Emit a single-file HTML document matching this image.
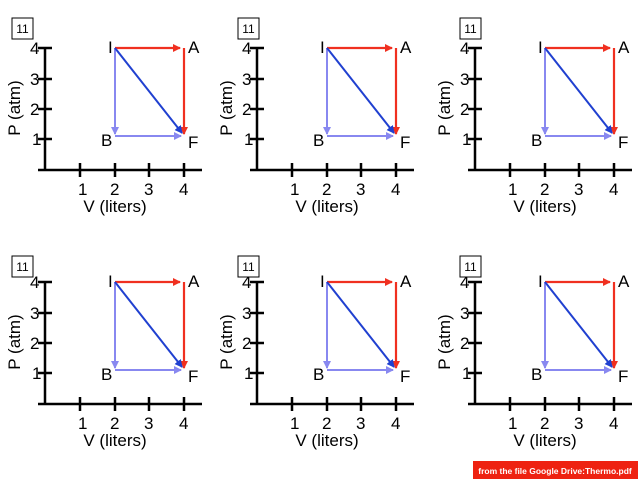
<!DOCTYPE html>
<html><head><style>
body{margin:0;background:#fff}
svg text{font-family:"Liberation Sans",sans-serif;fill:#000}
</style></head><body>
<svg width="640" height="480" viewBox="0 0 640 480" xmlns="http://www.w3.org/2000/svg">
<defs>
<marker id="ar" markerWidth="8" markerHeight="8" refX="7" refY="4" orient="auto" markerUnits="userSpaceOnUse"><path d="M0,0 L8,4 L0,8 z" fill="#f03020"/></marker>
<marker id="ab" markerWidth="8" markerHeight="8" refX="7" refY="4" orient="auto" markerUnits="userSpaceOnUse"><path d="M0,0 L8,4 L0,8 z" fill="#2040d0"/></marker>
<marker id="al" markerWidth="8" markerHeight="8" refX="7" refY="4" orient="auto" markerUnits="userSpaceOnUse"><path d="M0,0 L8,4 L0,8 z" fill="#8888f0"/></marker>
<g id="p">
<g stroke="#000" stroke-width="2.5" fill="none">
<path d="M45,48 V170 M38,170 H202"/>
<path d="M38,48 H52 M38,79 H52 M38,109 H52 M38,139 H52"/>
<path d="M80,163 V177 M115,163 V177 M149,163 V177 M184,163 V177"/>
</g>
<g font-size="17">
<text x="30" y="54">4</text><text x="30" y="85">3</text><text x="30" y="115">2</text><text x="32" y="145">1</text>
<text x="78" y="195">1</text><text x="110" y="195">2</text><text x="144" y="195">3</text><text x="179" y="195">4</text>
<text x="115" y="212" text-anchor="middle">V (liters)</text>
<text transform="translate(20,108) rotate(-90)" text-anchor="middle">P (atm)</text>
<text x="108" y="53">I</text><text x="188" y="53">A</text><text x="101" y="146">B</text><text x="188" y="148">F</text>
</g>
<line x1="115" y1="48" x2="115" y2="134" stroke="#8888f0" stroke-width="2" marker-end="url(#al)"/>
<line x1="115" y1="136" x2="181" y2="136" stroke="#8888f0" stroke-width="2" marker-end="url(#al)"/>
<line x1="115" y1="48" x2="180" y2="48" stroke="#f03020" stroke-width="2.2" marker-end="url(#ar)"/>
<line x1="184" y1="48" x2="184" y2="134" stroke="#f03020" stroke-width="2.2" marker-end="url(#ar)"/>
<line x1="115" y1="48" x2="182" y2="133" stroke="#2040d0" stroke-width="2" marker-end="url(#ab)"/>
</g>
<g id="bx"><rect x="12" y="18" width="21" height="21" fill="#fff" stroke="#000" stroke-width="1"/><text x="22.5" y="33" font-size="12" text-anchor="middle">11</text></g>
</defs>
<use href="#p"/><use href="#bx"/>
<use href="#p" x="212"/><use href="#bx" x="226"/>
<use href="#p" x="430"/><use href="#bx" x="448"/>
<use href="#p" y="234"/><use href="#bx" y="238"/>
<use href="#p" x="212" y="234"/><use href="#bx" x="226" y="238"/>
<use href="#p" x="430" y="234"/><use href="#bx" x="448" y="238"/>
<rect x="473" y="461" width="165" height="18" fill="#ee2211"/>
<text x="555" y="474" font-size="8.5" text-anchor="middle" style="fill:#fff" font-weight="bold">from the file Google Drive:Thermo.pdf</text>
</svg>
</body></html>
